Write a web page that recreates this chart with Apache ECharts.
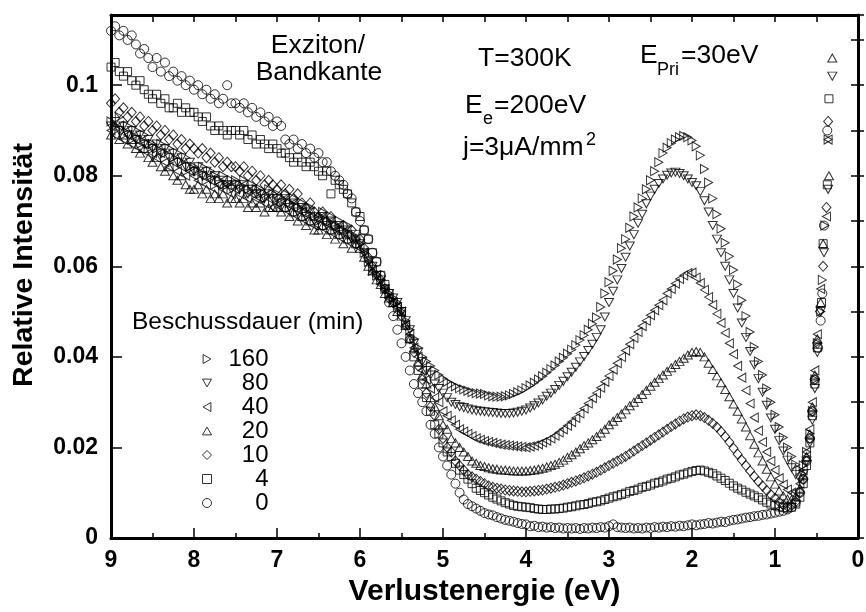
<!DOCTYPE html>
<html><head><meta charset="utf-8">
<script src="https://cdn.jsdelivr.net/npm/echarts@6/dist/echarts.min.js"></script>
<style>html,body{margin:0;padding:0;background:#fff}#c{width:866px;height:612px}</style>
</head><body><div id="c"></div>
<script>
// Energy grid (eV), common to all series
const energy = [
9.00,8.95,8.90,8.85,8.80,8.75,8.70,8.65,8.60,8.55,
8.50,8.45,8.40,8.35,8.30,8.25,8.20,8.15,8.10,8.05,
8.00,7.95,7.90,7.85,7.80,7.75,7.70,7.65,7.60,7.55,
7.50,7.45,7.40,7.35,7.30,7.25,7.20,7.15,7.10,7.05,
7.00,6.95,6.90,6.85,6.80,6.75,6.70,6.65,6.60,6.55,
6.50,6.45,6.40,6.35,6.30,6.25,6.20,6.15,6.10,6.05,
6.00,5.95,5.90,5.85,5.80,5.75,5.70,5.65,5.60,5.55,
5.50,5.45,5.40,5.35,5.30,5.25,5.20,5.15,5.10,5.05,
5.00,4.95,4.90,4.85,4.80,4.75,4.70,4.65,4.60,4.55,
4.50,4.45,4.40,4.35,4.30,4.25,4.20,4.15,4.10,4.05,
4.00,3.95,3.90,3.85,3.80,3.75,3.70,3.65,3.60,3.55,
3.50,3.45,3.40,3.35,3.30,3.25,3.20,3.15,3.10,3.05,
3.00,2.95,2.90,2.85,2.80,2.75,2.70,2.65,2.60,2.55,
2.50,2.45,2.40,2.35,2.30,2.25,2.20,2.15,2.10,2.05,
2.00,1.95,1.90,1.85,1.80,1.75,1.70,1.65,1.60,1.55,
1.50,1.45,1.40,1.35,1.30,1.25,1.20,1.15,1.10,1.05,
1.00,0.95,0.90,0.85,0.80,0.75];

// 0 min (circles)
const s0 = [
.112,.113,.111,.112,.110,.111,.109,.107,.108,.106,
.104,.106,.103,.105,.102,.103,.101,.102,.100,.101,
.099,.100,.098,.099,.097,.098,.096,.097,.100,.096,
.096,.095,.096,.094,.095,.093,.094,.092,.093,.091,
.092,.091,.088,.087,.088,.086,.087,.085,.086,.084,
.085,.083,.083,.081,.080,.079,.078,.076,.075,.072,
.070,.068,.066,.063,.061,.058,.055,.052,.049,.046,
.043,.040,.037,.034,.032,.030,.028,.025,.023,.020,
.018,.016,.014,.012,.010,.0085,.0075,.0070,.0065,.0060,
.0055,.0052,.0050,.0046,.0043,.0040,.0038,.0036,.0033,.0031,
.0030,.0026,.0027,.0024,.0025,.0023,.0024,.0022,.0023,.0021,
.0022,.0021,.0022,.0020,.0022,.0021,.0023,.0022,.0024,.0023,
.0026,.0030,.0024,.0023,.0022,.0023,.0021,.0022,.0021,.0023,
.0022,.0024,.0023,.0025,.0024,.0026,.0025,.0027,.0026,.0028,
.0030,.0028,.0030,.0031,.0033,.0032,.0034,.0036,.0035,.0038,
.0040,.0041,.0043,.0045,.0046,.0048,.0049,.0051,.0052,.0054,
.0056,.0058,.0060,.0063,.0068,.0078];
const tail0 = [[0.70,.0100],[0.66,.0130],[0.62,.0170],[0.58,.0220],[0.55,.0280],[0.52,.0350],[0.48,.0420],[0.45,.0480],[0.43,.0540],[0.41,.0690],[0.37,.0900]];

// 4 min (squares)
const s4 = [
.104,.105,.103,.102,.103,.101,.100,.101,.099,.098,
.097,.098,.096,.097,.095,.095,.096,.094,.095,.094,
.094,.093,.092,.093,.091,.090,.091,.090,.089,.090,
.090,.089,.090,.088,.089,.087,.088,.087,.086,.087,
.086,.085,.085,.084,.083,.084,.083,.082,.083,.082,
.081,.080,.081,.076,.079,.078,.077,.076,.074,.072,
.071,.068,.066,.063,.061,.058,.056,.054,.052,.051,
.050,.047,.044,.040,.037,.034,.031,.028,.025,.023,
.021,.019,.018,.0165,.0150,.0140,.0130,.0120,.0110,.0105,
.0100,.0095,.0090,.0086,.0082,.0078,.0075,.0072,.0070,.0069,
.0068,.0067,.0065,.0064,.0063,.0063,.0064,.0064,.0065,.0066,
.0068,.0069,.0071,.0073,.0074,.0076,.0079,.0080,.0082,.0085,
.0088,.0091,.0093,.0096,.0099,.0103,.0105,.0108,.0112,.0114,
.0117,.0121,.0123,.0126,.0130,.0132,.0135,.0139,.0141,.0144,
.0147,.0149,.0150,.0148,.0145,.0142,.0137,.0132,.0127,.0121,
.0115,.0110,.0106,.0101,.0097,.0093,.0089,.0084,.0079,.0075,
.0072,.0069,.0067,.0066,.0068,.0075];
const tail4 = [[0.70,.0090],[0.66,.0120],[0.62,.0160],[0.58,.0210],[0.55,.0270],[0.52,.0340],[0.49,.0420],[0.44,.0520],[0.42,.0650],[0.37,.0780],[0.35,.0970]];

// 10 min (diamonds)
const s10 = [
.096,.097,.094,.095,.093,.094,.092,.093,.091,.092,
.090,.091,.089,.090,.088,.089,.087,.088,.086,.087,
.086,.085,.086,.084,.085,.083,.084,.082,.083,.082,
.082,.081,.082,.080,.081,.079,.080,.078,.079,.078,
.077,.078,.076,.077,.075,.076,.074,.073,.074,.072,
.071,.072,.070,.071,.069,.068,.069,.067,.068,.066,
.066,.064,.062,.060,.058,.057,.055,.053,.052,.051,
.049,.047,.044,.041,.038,.035,.032,.029,.027,.024,
.022,.020,.019,.017,.016,.015,.014,.0135,.0130,.0125,
.0120,.0115,.0112,.0110,.0108,.0106,.0105,.0104,.0103,.0102,
.0102,.0103,.0104,.0105,.0106,.0108,.0110,.0112,.0114,.0117,
.0120,.0123,.0126,.0129,.0133,.0137,.0141,.0145,.0150,.0155,
.0160,.0165,.0170,.0175,.0180,.0186,.0192,.0198,.0204,.0210,
.0216,.0222,.0228,.0234,.0240,.0246,.0252,.0258,.0263,.0267,
.0270,.0272,.0270,.0266,.0260,.0253,.0245,.0235,.0224,.0212,
.0198,.0185,.0172,.0160,.0148,.0136,.0125,.0115,.0105,.0096,
.0088,.0080,.0073,.0070,.0072,.0080];
const tail10 = [[0.70,.0100],[0.66,.0130],[0.62,.0170],[0.58,.0220],[0.55,.0280],[0.52,.0350],[0.49,.0430],[0.46,.0500],[0.42,.0600],[0.38,.0730],[0.36,.0920]];

// 20 min (triangles up)
const s20 = [
.089,.091,.088,.089,.087,.088,.086,.085,.086,.084,
.083,.084,.082,.081,.082,.080,.079,.080,.078,.077,
.077,.078,.076,.077,.075,.076,.075,.076,.074,.075,
.075,.074,.075,.073,.074,.073,.074,.072,.073,.073,
.073,.072,.073,.071,.072,.070,.071,.069,.070,.068,
.068,.069,.067,.068,.066,.067,.065,.066,.064,.065,
.064,.062,.060,.059,.057,.056,.054,.053,.052,.050,
.049,.047,.044,.042,.039,.036,.034,.031,.029,.027,
.025,.024,.022,.021,.020,.019,.018,.017,.0165,.0160,
.0158,.0155,.0153,.0152,.0150,.0150,.0149,.0148,.0148,.0148,
.0148,.0149,.0150,.0152,.0154,.0157,.0160,.0163,.0167,.0172,
.0178,.0184,.0190,.0197,.0204,.0210,.0217,.0224,.0232,.0240,
.0250,.0258,.0266,.0274,.0283,.0292,.0300,.0308,.0317,.0326,
.0335,.0344,.0352,.0360,.0368,.0376,.0383,.0390,.0397,.0404,
.0410,.0412,.0410,.0400,.0386,.0372,.0358,.0343,.0328,.0312,
.0296,.0280,.0263,.0245,.0226,.0207,.0188,.0170,.0152,.0135,
.0119,.0104,.0093,.0086,.0085,.0092];
const tail20 = [[0.70,.0110],[0.66,.0140],[0.62,.0180],[0.58,.0230],[0.55,.0290],[0.52,.0360],[0.49,.0440],[0.45,.0520],[0.42,.0650],[0.35,.0800],[0.31,.1060]];

// 40 min (triangles left)
const s40 = [
.090,.089,.091,.088,.089,.087,.088,.086,.087,.085,
.085,.084,.085,.083,.082,.083,.081,.082,.080,.081,
.080,.079,.080,.078,.079,.077,.078,.077,.078,.076,
.077,.076,.077,.075,.076,.075,.075,.074,.075,.073,
.074,.073,.074,.072,.073,.071,.072,.070,.071,.069,
.069,.070,.068,.069,.067,.068,.066,.067,.065,.066,
.064,.063,.061,.059,.058,.056,.055,.053,.052,.051,
.050,.047,.045,.042,.040,.037,.035,.033,.031,.030,
.028,.027,.026,.025,.024,.0235,.0230,.0225,.0220,.0217,
.0214,.0212,.0210,.0208,.0206,.0205,.0204,.0203,.0202,.0201,
.0200,.0202,.0204,.0207,.0211,.0215,.0220,.0226,.0233,.0240,
.0248,.0256,.0265,.0275,.0286,.0297,.0309,.0320,.0332,.0345,
.0358,.0372,.0386,.0400,.0414,.0428,.0442,.0455,.0468,.0480,
.0492,.0503,.0514,.0525,.0540,.0550,.0562,.0572,.0580,.0585,
.0586,.0575,.0563,.0548,.0532,.0515,.0495,.0475,.0453,.0430,
.0406,.0380,.0354,.0326,.0297,.0266,.0237,.0212,.0190,.0170,
.0150,.0132,.0118,.0107,.0100,.0102];
const tail40 = [[0.70,.0120],[0.66,.0150],[0.62,.0190],[0.58,.0240],[0.55,.0300],[0.52,.0370],[0.49,.0450],[0.45,.0550],[0.38,.0710],[0.36,.0880]];

// 80 min (triangles down)
const s80 = [
.091,.092,.090,.091,.089,.090,.088,.089,.087,.088,
.086,.087,.085,.086,.084,.085,.083,.084,.082,.083,
.081,.082,.080,.081,.079,.080,.078,.079,.078,.077,
.078,.077,.078,.076,.077,.076,.076,.075,.076,.075,
.075,.074,.075,.073,.074,.072,.073,.071,.072,.070,
.070,.071,.069,.070,.068,.069,.067,.068,.066,.067,
.065,.063,.061,.060,.058,.057,.055,.054,.053,.052,
.050,.048,.046,.043,.041,.039,.037,.036,.034,.033,
.032,.031,.030,.0295,.0290,.0288,.0285,.0283,.0281,.0280,
.0279,.0278,.0277,.0276,.0275,.0275,.0275,.0276,.0278,.0280,
.0283,.0287,.0292,.0298,.0305,.0313,.0320,.0328,.0337,.0346,
.0356,.0366,.0377,.0389,.0401,.0414,.0428,.0443,.0460,.0488,
.0520,.0545,.0570,.0595,.0620,.0645,.0670,.0695,.0715,.0738,
.0755,.0770,.0783,.0793,.0801,.0806,.0808,.0805,.0800,.0793,
.0785,.0778,.0765,.0745,.0720,.0690,.0660,.0630,.0600,.0570,
.0540,.0508,.0475,.0443,.0412,.0382,.0352,.0322,.0293,.0265,
.0240,.0215,.0192,.0172,.0155,.0140];
const tail80 = [[0.70,.0130],[0.66,.0140],[0.62,.0170],[0.58,.0210],[0.55,.0260],[0.52,.0330],[0.49,.0410],[0.45,.0500],[0.41,.0630],[0.36,.0770],[0.31,.1020]];

// 160 min (triangles right)
const s160 = [
.092,.091,.093,.090,.091,.089,.090,.088,.089,.087,
.087,.086,.087,.085,.086,.084,.085,.083,.084,.082,
.082,.081,.082,.080,.081,.080,.079,.080,.078,.079,
.079,.078,.079,.077,.078,.077,.077,.076,.077,.076,
.076,.075,.076,.074,.075,.073,.074,.072,.073,.071,
.071,.072,.070,.071,.069,.070,.068,.069,.067,.066,
.065,.063,.061,.059,.058,.057,.055,.054,.053,.052,
.050,.048,.046,.044,.042,.040,.039,.038,.037,.036,
.0352,.0345,.0340,.0335,.0331,.0328,.0325,.0322,.0320,.0319,
.0318,.0315,.0313,.0312,.0312,.0313,.0315,.0318,.0322,.0326,
.0331,.0337,.0343,.0350,.0357,.0365,.0373,.0381,.0390,.0398,
.0407,.0416,.0426,.0437,.0448,.0460,.0473,.0487,.0510,.0540,
.0565,.0590,.0615,.0640,.0660,.0685,.0710,.0730,.0750,.0770,
.0790,.0810,.0830,.0850,.0862,.0872,.0880,.0885,.0888,.0885,
.0878,.0865,.0845,.0815,.0785,.0750,.0715,.0683,.0652,.0622,
.0592,.0560,.0525,.0490,.0455,.0422,.0390,.0360,.0330,.0300,
.0272,.0245,.0222,.0200,.0180,.0162];
const tail160 = [[0.70,.0150],[0.66,.0160],[0.62,.0190],[0.58,.0230],[0.55,.0280],[0.52,.0350],[0.49,.0430],[0.45,.0500],[0.43,.0570],[0.40,.0690],[0.36,.0880]];

const seriesNames = ['0','4','10','20','40','80','160'];
const legendOrder = ['160','80','40','20','10','4','0'];
const yTicks = [0, 0.02, 0.04, 0.06, 0.08, 0.1];

const FONT = '"Liberation Sans", Arial, Helvetica, sans-serif';
const values = [s0, s4, s10, s20, s40, s80, s160];
const tails = [tail0, tail4, tail10, tail20, tail40, tail80, tail160];
const symbols = [
  {symbol:'circle', size:9},
  {symbol:'rect', size:8},
  {symbol:'diamond', size:[9,10]},
  {symbol:'path://M5,0L10,8.66L0,8.66Z', size:[9,8]},
  {symbol:'path://M0,5L8.66,0L8.66,10Z', size:[8,9]},
  {symbol:'path://M0,0L10,0L5,8.66Z', size:[9,8]},
  {symbol:'path://M0,0L8.66,5L0,10Z', size:[8,9]}
];

const series = values.map((vals, k) => ({
  type: 'scatter',
  name: seriesNames[k],
  xAxisIndex: 0, yAxisIndex: 0,
  symbol: symbols[k].symbol,
  symbolSize: symbols[k].size,
  silent: true,
  itemStyle: {color: 'rgba(255,255,255,0)', borderColor: '#000', borderWidth: 1},
  data: energy.map((e, i) => [e, vals[i]]).concat(tails[k])
}));

const tickStyle = {color: '#000', width: 1.5};
const axisLine = {show: true, onZero: false, lineStyle: {color: '#000', width: 3}};
const labelStyle = {fontFamily: FONT, fontWeight: 'bold', fontSize: 23, color: '#000'};

const option = {
  animation: false,
  backgroundColor: '#fff',
  grid: {left: 111, right: 8, top: 15, bottom: 74, containLabel: false, outerBoundsMode: 'none'},
  xAxis: [
    {type: 'value', min: 0, max: 9, interval: 1, inverse: true, position: 'bottom',
     axisLine: axisLine,
     axisTick: {inside: true, length: 10, lineStyle: tickStyle},
     minorTick: {show: true, splitNumber: 2, length: 5, lineStyle: tickStyle},
     splitLine: {show: false}, minorSplitLine: {show: false},
     axisLabel: Object.assign({margin: 11}, labelStyle),
     name: 'Verlustenergie (eV)', nameLocation: 'middle', nameGap: 36,
     nameTextStyle: {fontFamily: FONT, fontWeight: 'bold', fontSize: 30, color: '#000'}},
    {type: 'value', min: 0, max: 9, interval: 0.5, inverse: true, position: 'top',
     axisLine: axisLine,
     axisTick: {inside: true, length: 7, lineStyle: tickStyle},
     splitLine: {show: false}, axisLabel: {show: false}}
  ],
  yAxis: [
    {type: 'value', min: 0, max: 0.1155, interval: 0.02, position: 'left',
     axisLine: axisLine,
     axisTick: {inside: true, length: 11, lineStyle: tickStyle},
     splitLine: {show: false},
     axisLabel: Object.assign({margin: 13, showMaxLabel: false,
       formatter: v => { const t = yTicks.find(x => Math.abs(x - v) < 1e-9); return t === undefined ? '' : String(t); }}, labelStyle)},
    {type: 'value', min: 0, max: 0.1155, interval: 0.01, position: 'left',
     axisLine: {show: false},
     axisTick: {inside: true, length: 6, lineStyle: tickStyle},
     splitLine: {show: false}, axisLabel: {show: false}},
    {type: 'value', min: 0, max: 0.1155, interval: 0.01, position: 'right',
     axisLine: axisLine,
     axisTick: {inside: true, length: 7, lineStyle: tickStyle},
     splitLine: {show: false}, axisLabel: {show: false}}
  ],
  legend: {
    orient: 'vertical', left: 197, top: 342,
    itemWidth: 9, itemHeight: 9, itemGap: 0, itemTextGap: 4,
    selectedMode: false,
    data: legendOrder,
    itemStyle: {color: 'rgba(255,255,255,0)', borderColor: '#000', borderWidth: 1},
    formatter: n => '{n|' + n + '}',
    textStyle: {fontFamily: FONT, fontSize: 24, color: '#000',
      rich: {n: {width: 52, align: 'right', fontFamily: FONT, fontSize: 24, lineHeight: 25.7, color: '#000'}}}
  },
  graphic: [
    {type: 'text', x: 24, y: 265, rotation: Math.PI / 2,
     style: {text: 'Relative Intensität', font: 'bold 28.5px ' + FONT, fill: '#000', align: 'center', verticalAlign: 'middle'}},
    {type: 'text', x: 318, y: 46, style: {text: 'Exziton/', font: '26.5px ' + FONT, fill: '#000', align: 'center', verticalAlign: 'middle'}},
    {type: 'text', x: 319, y: 73, style: {text: 'Bandkante', font: '26.5px ' + FONT, fill: '#000', align: 'center', verticalAlign: 'middle'}},
    {type: 'text', x: 478, y: 59, style: {text: 'T=300K', font: '26.5px ' + FONT, fill: '#000', align: 'left', verticalAlign: 'middle'}},
    {type: 'text', x: 640, y: 56, style: {text: 'E', font: '26.5px ' + FONT, fill: '#000', align: 'left', verticalAlign: 'middle'}},
    {type: 'text', x: 657, y: 70, style: {text: 'Pri', font: '18px ' + FONT, fill: '#000', align: 'left', verticalAlign: 'middle'}},
    {type: 'text', x: 681, y: 56, style: {text: '=30eV', font: '26.5px ' + FONT, fill: '#000', align: 'left', verticalAlign: 'middle'}},
    {type: 'text', x: 465, y: 106, style: {text: 'E', font: '26.5px ' + FONT, fill: '#000', align: 'left', verticalAlign: 'middle'}},
    {type: 'text', x: 483, y: 119, style: {text: 'e', font: '18px ' + FONT, fill: '#000', align: 'left', verticalAlign: 'middle'}},
    {type: 'text', x: 494, y: 106, style: {text: '=200eV', font: '26.5px ' + FONT, fill: '#000', align: 'left', verticalAlign: 'middle'}},
    {type: 'text', x: 463, y: 148, style: {text: 'j=3\u03bcA/mm', font: '26.5px ' + FONT, fill: '#000', align: 'left', verticalAlign: 'middle'}},
    {type: 'text', x: 586, y: 140, style: {text: '2', font: '18px ' + FONT, fill: '#000', align: 'left', verticalAlign: 'middle'}},
    {type: 'text', x: 132, y: 322, style: {text: 'Beschussdauer (min)', font: '24.5px ' + FONT, fill: '#000', align: 'left', verticalAlign: 'middle'}}
  ],
  series: series
};

const chart = echarts.init(document.getElementById('c'), null, {renderer: 'canvas'});
chart.setOption(option);
</script>
</body></html>
